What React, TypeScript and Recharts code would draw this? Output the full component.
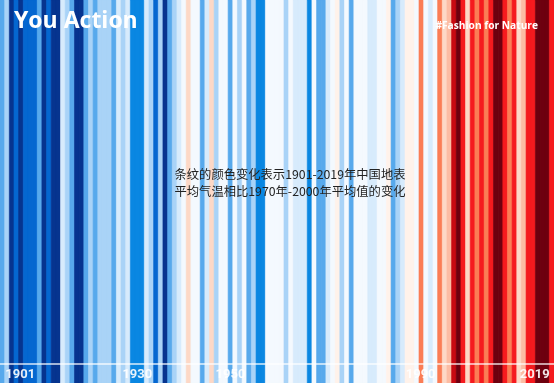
import React from 'react';
import { BarChart, Bar, Cell, XAxis, YAxis, ReferenceLine } from 'recharts';

const START_YEAR = 1901;
// colour class of each year's stripe, 1901 → 2019
const stripeClasses: string[] = [
  'M','L','N','S','N','S','S','S','M','N','S','N','N','V','L','M','N','N','M','L',
  'M','L','L','L','M','V','L','V','T','T','T','V','L','S','L','N','M','L','V','W',
  'P','W','W','M','V','P','L','W','W','M','W','L','W','M','L','T','T','W','W','W',
  'W','L','W','V','V','V','T','W','M','M','V','W','F','L','W','M','W','W','W','V',
  'V','W','W','F','M','L','V','F','F','W','O','W','V','W','O','P','Q','C','D','R',
  'P','R','O','R','O','R','D','D','R','O','R','P','Q','R','R','D','D','D','R',
];
const palette: Record<string, string> = {
  N: '#06348f', S: '#0567d0', T: '#0a87e2', M: '#57a9ec', L: '#a9d3f7',
  V: '#d7ebfc', W: '#f4f9fe', F: '#fff2ea', P: '#fdd8c6', Q: '#fcbca3',
  O: '#fb7d55', R: '#f51a1e', C: '#c80a12', D: '#6e000f',
};
const labeledYears: number[] = [1901, 1930, 1950, 1990, 2019];
const title = 'You Action';
const hashtag = '#Fashion for Nature';
const captionLines: string[] = [
  '条纹的颜色变化表示1901-2019年中国地表',
  '平均气温相比1970年-2000年平均值的变化',
];

const data = stripeClasses.map((c, i) => ({ year: START_YEAR + i, stripe: 1, cls: c }));

const W = 554;
const H = 383;

const YearTick = (props: any) => {
  const { x, payload } = props;
  const v = Number(payload.value);
  if (!labeledYears.includes(v)) return <g />;
  let anchor: 'start' | 'middle' | 'end' = 'middle';
  let tx = x;
  if (v === labeledYears[0]) { anchor = 'start'; tx = x + 3; }
  else if (v === labeledYears[labeledYears.length - 1]) { anchor = 'end'; tx = x - 2; }
  else if (v === 1990) { tx = x + 4; }
  return (
    <text x={tx} y={378} textAnchor={anchor} fill="#ffffff" fillOpacity={0.9}
      fontFamily="'Liberation Sans Narrow', Roboto, sans-serif" fontWeight="bold" fontSize={13}>
      {v}
    </text>
  );
};

export default function App() {
  return (
    <div style={{ position: 'fixed', left: 0, top: 0, width: W, height: H }}>
      <BarChart width={W} height={H} data={data} margin={{ top: 0, right: 0, bottom: 0, left: 0 }}
        barCategoryGap={0} barGap={0}>
        <XAxis dataKey="year" mirror axisLine={false} tickLine={false} interval={0} tick={<YearTick />} />
        <YAxis hide domain={[0, 1]} />
        <Bar dataKey="stripe" isAnimationActive={false}>
          {data.map((d) => (
            <Cell key={d.year} fill={palette[d.cls]} stroke={palette[d.cls]} strokeWidth={0.6} />
          ))}
        </Bar>
        <ReferenceLine y={19 / 383} stroke="#ffffff" strokeOpacity={0.85} strokeWidth={1.5} />
      </BarChart>
      <svg width={W} height={H} style={{ position: 'absolute', left: 0, top: 0, pointerEvents: 'none' }}>
        <text x={14} y={28} fill="#ffffff" fontFamily="'Open Sans', sans-serif" fontWeight="bold" fontSize={23}>
          {title}
        </text>
        <text x={538} y={29} textAnchor="end" fill="#ffffff" fontFamily="'Open Sans', sans-serif" fontWeight="bold" fontSize={10.2}>
          {hashtag}
        </text>
        {captionLines.map((line, i) => (
          <text key={i} x={290} y={179 + i * 17} textAnchor="middle" fill="#222222"
            fontFamily="'Noto Sans CJK SC', sans-serif" fontSize={12.3}>
            {line}
          </text>
        ))}
      </svg>
    </div>
  );
}
